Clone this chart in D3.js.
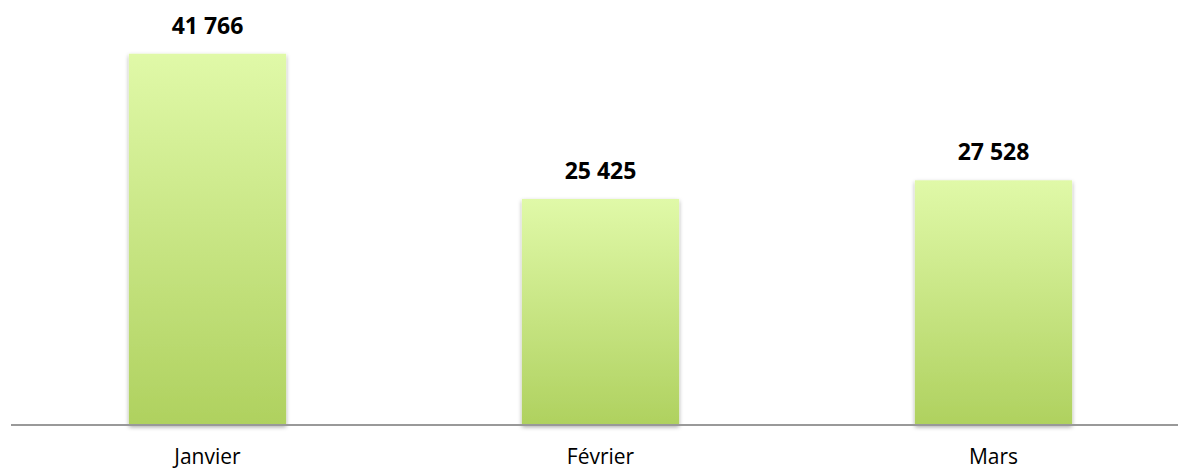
<!DOCTYPE html>
<html>
<head>
<meta charset="utf-8">
<script src="https://cdn.jsdelivr.net/npm/d3@7"></script>
<style>
  body { margin: 0; background: #fff; }
  text { font-family: "Open Sans", "Liberation Sans", sans-serif; }
</style>
</head>
<body>
<svg></svg>
<script>
const months = ["Janvier", "Février", "Mars"];
const values = [41766, 25425, 27528];

const width = 1178, height = 470;
const baseline = 425;

const svg = d3.select("svg")
    .attr("width", width)
    .attr("height", height);

const defs = svg.append("defs");

const grad = defs.append("linearGradient")
    .attr("id", "barGrad")
    .attr("x1", 0).attr("y1", 0)
    .attr("x2", 0).attr("y2", 1);
grad.append("stop").attr("offset", "0%").attr("stop-color", "#e0f9a8");
grad.append("stop").attr("offset", "100%").attr("stop-color", "#afd15f");

const shadow = defs.append("filter")
    .attr("id", "shadow")
    .attr("x", "-10%").attr("y", "-10%")
    .attr("width", "120%").attr("height", "120%");
shadow.append("feDropShadow")
    .attr("dx", 0).attr("dy", 2)
    .attr("stdDeviation", 2)
    .attr("flood-color", "#000")
    .attr("flood-opacity", 0.35);

const x = d3.scaleBand()
    .domain(months)
    .range([11, 1190])
    .paddingInner(0.6)
    .paddingOuter(0.3);

const y = d3.scaleLinear()
    .domain([0, 45000])
    .range([baseline, 25]);

const data = months.map((m, i) => ({month: m, value: values[i]}));

svg.append("g")
    .selectAll("rect")
    .data(data)
    .join("rect")
    .attr("x", d => x(d.month))
    .attr("y", d => y(d.value))
    .attr("width", x.bandwidth())
    .attr("height", d => baseline - y(d.value))
    .attr("fill", "url(#barGrad)")
    .attr("filter", "url(#shadow)");

// axis line
svg.append("line")
    .attr("x1", 11)
    .attr("x2", width)
    .attr("y1", baseline)
    .attr("y2", baseline)
    .attr("stroke", "#999")
    .attr("stroke-width", 2);

const fmt = v => d3.format(",")(v).replace(/,/g, " ");

svg.append("g")
    .selectAll("text")
    .data(data)
    .join("text")
    .attr("x", d => x(d.month) + x.bandwidth() / 2)
    .attr("y", d => y(d.value) - 20)
    .attr("text-anchor", "middle")
    .style("font-size", "23px")
    .style("font-weight", "bold")
    .attr("fill", "#000")
    .text(d => fmt(d.value));

svg.append("g")
    .selectAll("text")
    .data(months)
    .join("text")
    .attr("x", d => x(d) + x.bandwidth() / 2)
    .attr("y", 464)
    .attr("text-anchor", "middle")
    .style("font-size", "21px")
    .attr("fill", "#000")
    .text(d => d);
</script>
</body>
</html>
